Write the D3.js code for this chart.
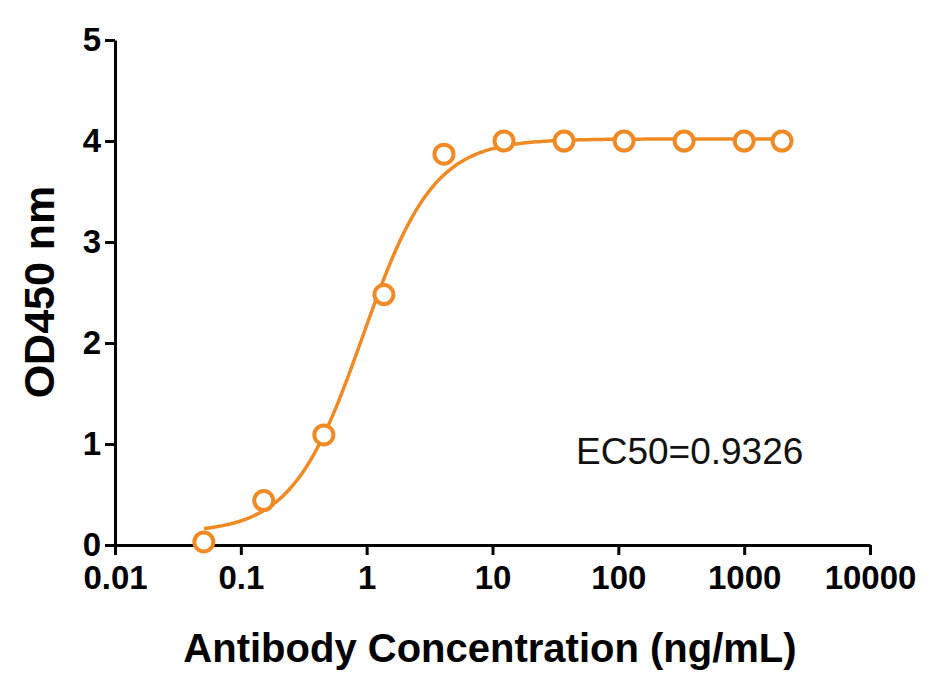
<!DOCTYPE html>
<html><head><meta charset="utf-8">
<script src="https://cdn.jsdelivr.net/npm/d3@7"></script>
<style>body{margin:0;background:#fff}text{font-family:"Liberation Sans",Arial,sans-serif}</style>
</head><body><svg id="c" width="930" height="679"></svg>
<script>
const concentrations=[0.0508,0.152,0.457,1.372,4.115,12.35,37.04,111.1,333.3,1000,2000];
const od450=[0.03,0.44,1.09,2.48,3.87,4.0,4.0,4.0,4.0,4.0,4.0];
const xTicks=[0.01,0.1,1,10,100,1000,10000];
const xTickLabels=["0.01","0.1","1","10","100","1000","10000"];
const yTicks=[0,1,2,3,4,5];
const fit={bottom:0.12,top:4.02,ec50:0.9326,hill:1.55};
const color="#F08A24";
const svg=d3.select("#c");
const x=d3.scaleLog().domain([0.01,10000]).range([115,870]);
const y=d3.scaleLinear().domain([0,5]).range([545,40]);
const xa=svg.append("g").attr("transform","translate(0,545)")
 .call(d3.axisBottom(x).tickValues(xTicks).tickFormat((d,i)=>xTickLabels[i]).tickSize(10).tickSizeOuter(0));
const ya=svg.append("g").attr("transform","translate(115,0)")
 .call(d3.axisLeft(y).tickValues(yTicks).tickFormat(d3.format("d")).tickSize(10).tickSizeOuter(0));
[xa,ya].forEach(a=>{a.selectAll("path,line").attr("stroke","#000").attr("stroke-width",3);
 a.selectAll("text").attr("font-size",33).attr("font-weight","bold").attr("fill","#000");});
xa.selectAll("text").attr("dy","0.95em");
ya.selectAll("text").attr("x",-14);
svg.append("text").attr("x",490).attr("y",662).attr("text-anchor","middle").attr("font-size",40).attr("font-weight","bold").text("Antibody Concentration (ng/mL)");
svg.append("text").attr("transform","translate(54,292) rotate(-90)").attr("text-anchor","middle").attr("font-size",43).attr("font-weight","bold").text("OD450 nm");
svg.append("text").attr("x",576).attr("y",464).attr("font-size",37).attr("fill","#111").text("EC50=0.9326");
const f=c=>fit.bottom+(fit.top-fit.bottom)/(1+Math.pow(fit.ec50/c,fit.hill));
const xs=d3.range(Math.log10(0.0508),Math.log10(2000)+0.001,0.02).map(v=>Math.pow(10,v));
svg.append("path").datum(xs).attr("fill","none").attr("stroke",color).attr("stroke-width",3.5)
 .attr("d",d3.line().x(d=>x(d)).y(d=>y(f(d))));
svg.selectAll("circle.p").data(concentrations).join("circle").attr("cx",d=>x(d)).attr("cy",(d,i)=>y(od450[i]))
 .attr("r",9.5).attr("fill","#fff").attr("stroke",color).attr("stroke-width",4);
</script></body></html>
